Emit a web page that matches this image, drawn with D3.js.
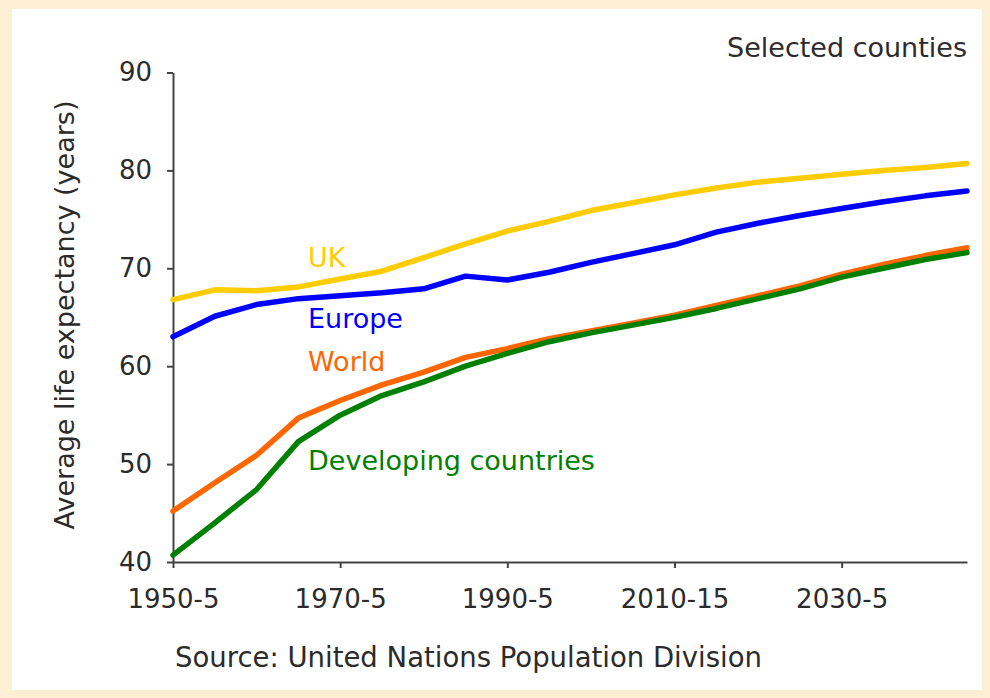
<!DOCTYPE html>
<html>
<head>
<meta charset="utf-8">
<script src="https://cdn.jsdelivr.net/npm/d3@7"></script>
<style>
  html, body { margin: 0; padding: 0; background: #fcefd3; }
  svg { display: block; }
  text { font-family: "DejaVu Sans", Verdana, sans-serif; }
</style>
</head>
<body>
<svg id="chart" width="990" height="698"></svg>
<script>
// Five-year periods, identified by their starting year
const periods = [1950, 1955, 1960, 1965, 1970, 1975, 1980, 1985, 1990, 1995,
                 2000, 2005, 2010, 2015, 2020, 2025, 2030, 2035, 2040, 2045];

// Average life expectancy (years) per period
const ukValues = [66.8, 67.8, 67.7, 68.1, 68.9, 69.7, 71.1, 72.5, 73.8, 74.8,
                  75.9, 76.7, 77.5, 78.2, 78.8, 79.2, 79.6, 80.0, 80.3, 80.7];
const europeValues = [63.0, 65.1, 66.3, 66.9, 67.2, 67.5, 67.9, 69.2, 68.8, 69.6,
                      70.6, 71.5, 72.4, 73.7, 74.6, 75.4, 76.1, 76.8, 77.4, 77.9];
const worldValues = [45.2, 48.1, 50.9, 54.7, 56.5, 58.1, 59.4, 60.9, 61.8, 62.8,
                     63.6, 64.4, 65.2, 66.2, 67.2, 68.2, 69.4, 70.4, 71.3, 72.1];
const developingValues = [40.7, 44.0, 47.4, 52.3, 55.0, 57.0, 58.4, 60.0, 61.3, 62.5,
                          63.4, 64.2, 65.0, 65.9, 66.9, 67.9, 69.1, 70.0, 70.9, 71.6];

// Axis ticks
const xTickValues = [1950, 1970, 1990, 2010, 2030];
const xTickLabels = ["1950-5", "1970-5", "1990-5", "2010-15", "2030-5"];
const yTickValues = [40, 50, 60, 70, 80, 90];

const series = [
  { name: "UK", values: ukValues, color: "#ffcc00" },
  { name: "Europe", values: europeValues, color: "#0000ff" },
  { name: "World", values: worldValues, color: "#ff6600" },
  { name: "Developing countries", values: developingValues, color: "#008000" }
];

const svg = d3.select("#chart");
const fontSize = 27;
const textColor = "#2b2b2b";

// White card on the cream page
svg.append("rect")
  .attr("x", 12).attr("y", 9).attr("width", 970).attr("height", 681)
  .attr("fill", "#ffffff");

const x = d3.scaleLinear().domain([1950, 2045]).range([173, 967]);
const y = d3.scaleLinear().domain([40, 90]).range([562, 72.5]);

// Axes
const xAxis = svg.append("g")
  .attr("transform", `translate(0,${y(40)})`)
  .call(d3.axisBottom(x)
    .tickValues(xTickValues)
    .tickFormat((d, i) => xTickLabels[i])
    .tickSize(6)
    .tickPadding(22)
    .tickSizeOuter(0));

const yAxis = svg.append("g")
  .attr("transform", `translate(${x(1950)},0)`)
  .call(d3.axisLeft(y)
    .tickValues(yTickValues)
    .tickSize(6)
    .tickPadding(15)
    .tickSizeOuter(0));

[xAxis, yAxis].forEach(g => {
  g.select(".domain").attr("stroke", "#444").attr("stroke-width", 2);
  g.selectAll(".tick line").attr("stroke", "#444").attr("stroke-width", 2);
  g.selectAll(".tick text")
    .attr("fill", textColor)
    .style("font-family", "'DejaVu Sans', Verdana, sans-serif")
    .style("font-size", "26px");
});

// Series lines (World before Developing so green lies on top)
const line = d3.line()
  .x((d, i) => x(periods[i]))
  .y(d => y(d))
  .curve(d3.curveLinear);

svg.append("g").selectAll("path")
  .data(series)
  .join("path")
  .attr("d", d => line(d.values))
  .attr("fill", "none")
  .attr("stroke", d => d.color)
  .attr("stroke-width", 5.5)
  .attr("stroke-linejoin", "round")
  .attr("stroke-linecap", "round");

// Series labels
const labelPos = {
  "UK": [308, 267],
  "Europe": [308, 328],
  "World": [308, 371],
  "Developing countries": [308, 470]
};
svg.append("g").selectAll("text")
  .data(series)
  .join("text")
  .attr("x", d => labelPos[d.name][0])
  .attr("y", d => labelPos[d.name][1])
  .attr("fill", d => d.color)
  .style("font-size", fontSize + "px")
  .text(d => d.name);

// Y-axis title
svg.append("text")
  .attr("transform", "translate(74,315) rotate(-90)")
  .attr("text-anchor", "middle")
  .attr("fill", textColor)
  .style("font-size", fontSize + "px")
  .text("Average life expectancy (years)");

// Subtitle
svg.append("text")
  .attr("x", 967).attr("y", 57)
  .attr("text-anchor", "end")
  .attr("fill", textColor)
  .style("font-size", fontSize + "px")
  .text("Selected counties");

// Source note
svg.append("text")
  .attr("x", 175).attr("y", 667)
  .attr("fill", textColor)
  .style("font-size", "27.5px")
  .text("Source: United Nations Population Division");
</script>
</body>
</html>
